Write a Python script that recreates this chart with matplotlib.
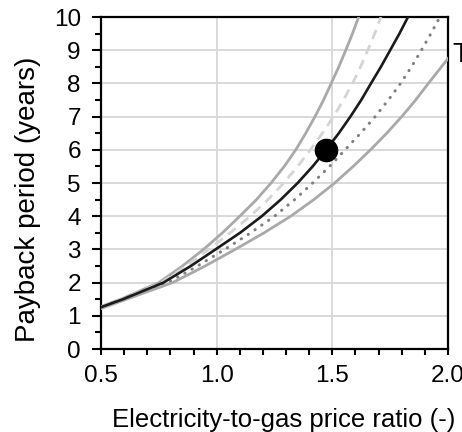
import matplotlib
matplotlib.use("Agg")
import matplotlib.pyplot as plt
from matplotlib.ticker import MultipleLocator

# ── Curve data: payback period vs electricity-to-gas price ratio ─────────────

RATIO_UPPER = [0.5, 0.585, 0.75, 0.852, 0.943, 1.025, 1.10, 1.172, 1.235,
               1.292, 1.342, 1.385, 1.425, 1.462, 1.495, 1.528, 1.558, 1.587, 1.614]
PAYBACK_UPPER = [1.28, 1.5, 2, 2.5, 3, 3.5, 4, 4.5, 5, 5.5, 6, 6.5, 7, 7.5,
                 8, 8.5, 9, 9.5, 10]

RATIO_DASHED = [0.5, 0.59, 0.76, 0.868, 0.965, 1.058, 1.145, 1.222, 1.29,
                1.35, 1.405, 1.457, 1.505, 1.548, 1.587, 1.622, 1.653, 1.683, 1.71]
PAYBACK_DASHED = [1.27, 1.5, 2, 2.5, 3, 3.5, 4, 4.5, 5, 5.5, 6, 6.5, 7, 7.5,
                  8, 8.5, 9, 9.5, 10]

RATIO_BASE = [0.5, 0.595, 0.77, 0.888, 0.995, 1.101, 1.195, 1.277, 1.35,
              1.415, 1.473, 1.528, 1.578, 1.625, 1.667, 1.71, 1.75, 1.79, 1.827]
PAYBACK_BASE = [1.26, 1.5, 2, 2.5, 3, 3.5, 4, 4.5, 5, 5.5, 6, 6.5, 7, 7.5,
                8, 8.5, 9, 9.5, 10]

RATIO_DOTTED = [0.5, 0.60, 0.79, 0.917, 1.035, 1.147, 1.25, 1.337, 1.415,
                1.488, 1.555, 1.622, 1.685, 1.742, 1.795, 1.842, 1.885, 1.926, 1.965]
PAYBACK_DOTTED = [1.25, 1.5, 2, 2.5, 3, 3.5, 4, 4.5, 5, 5.5, 6, 6.5, 7, 7.5,
                  8, 8.5, 9, 9.5, 10]

RATIO_LOWER = [0.5, 0.61, 0.81, 0.95, 1.08, 1.205, 1.32, 1.42, 1.51,
               1.59, 1.665, 1.735, 1.80, 1.86, 1.915, 2.0]
PAYBACK_LOWER = [1.22, 1.5, 2, 2.5, 3, 3.5, 4, 4.5, 5, 5.5, 6, 6.5, 7, 7.5,
                 8, 8.75]

# current operating point
POINT_RATIO = 1.473
POINT_PAYBACK = 6.0

X_TICKS = [0.5, 1.0, 1.5, 2.0]
Y_TICKS = list(range(0, 11))

plt.rcParams["font.family"] = ["Liberation Sans", "DejaVu Sans"]

fig = plt.figure(figsize=(4.62, 4.32), dpi=100)
ax = fig.add_axes([0.2186, 0.1921, 0.7511, 0.7685])

ax.plot(RATIO_UPPER, PAYBACK_UPPER, color="#a9a9a9", lw=2.0, zorder=3)
ax.plot(RATIO_DASHED, PAYBACK_DASHED, color="#d4d4d4", lw=2.0,
        linestyle=(0, (3.5, 2.4)), zorder=3)
ax.plot(RATIO_DOTTED, PAYBACK_DOTTED, color="#808080", lw=2.2,
        linestyle=(0, (0.1, 2.6)), dash_capstyle="round", zorder=3)
ax.plot(RATIO_LOWER, PAYBACK_LOWER, color="#a9a9a9", lw=2.0, zorder=3)
ax.plot(RATIO_BASE, PAYBACK_BASE, color="#1a1a1a", lw=1.9, zorder=4)
ax.plot([POINT_RATIO], [POINT_PAYBACK], "o", color="black", ms=16, zorder=5)

ax.set_xlim(0.5, 2.0)
ax.set_ylim(0, 10)
ax.set_xticks(X_TICKS)
ax.set_xticklabels([f"{v:.1f}" for v in X_TICKS])
ax.set_yticks(Y_TICKS)
ax.xaxis.set_minor_locator(MultipleLocator(0.1))
ax.yaxis.set_minor_locator(MultipleLocator(0.5))

ax.grid(True, which="major", color="#d9d9d9", lw=1.4, zorder=0)
ax.set_axisbelow(True)

for side in ax.spines.values():
    side.set_linewidth(1.6)
    side.set_color("black")

ax.tick_params(axis="x", which="both", direction="out", length=4.5, width=1.5,
               labelsize=17.5, pad=7)
ax.tick_params(axis="y", which="major", direction="out", length=6.5, width=1.5,
               labelsize=17.5, pad=8)
ax.tick_params(axis="y", which="minor", direction="out", length=4, width=1.5)

ax.set_xlabel("Electricity-to-gas price ratio (-)", fontsize=18.5, va="center")
ax.xaxis.set_label_coords(0.526, -0.214)
ax.set_ylabel("Payback period (years)", fontsize=20, va="center")
ax.yaxis.set_label_coords(-0.21, 0.452)

# neighbouring panel title, cut by the figure edge
fig.text(452 / 462, 1 - 62 / 432, "T", fontsize=20, ha="left", va="baseline")

fig.savefig("out.png", dpi=100)
